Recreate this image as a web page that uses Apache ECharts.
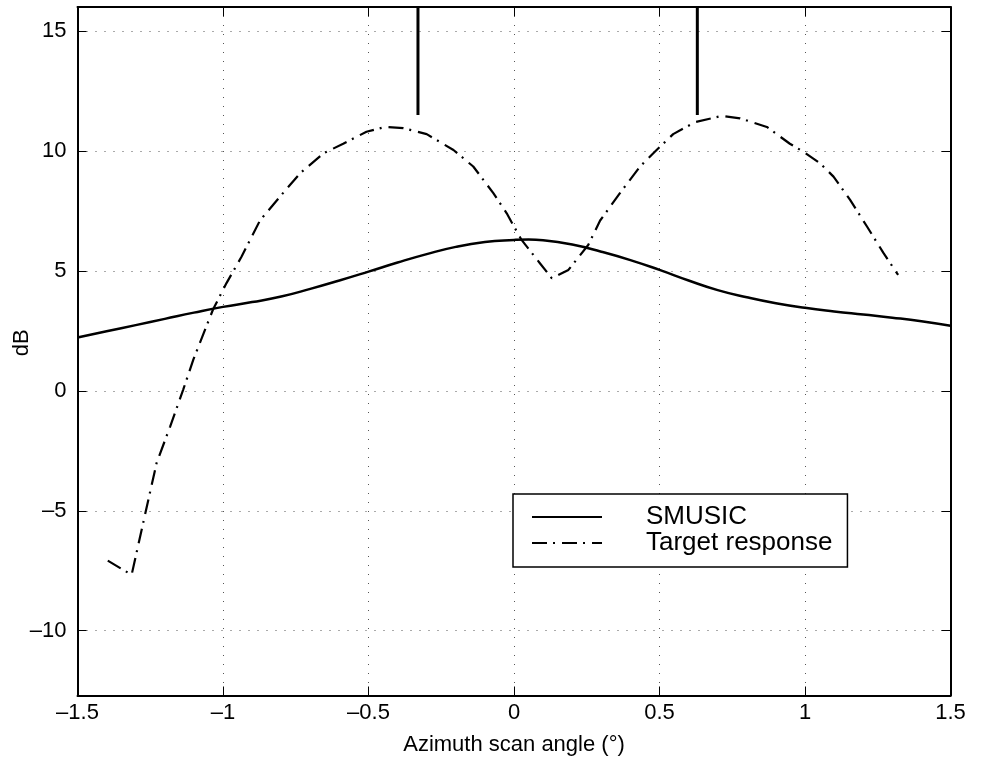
<!DOCTYPE html>
<html>
<head>
<meta charset="utf-8">
<script src="https://cdn.jsdelivr.net/npm/echarts@6/dist/echarts.min.js"></script>
<style>
html,body{margin:0;padding:0;background:#fff;}
#chart{width:982px;height:763px;}
</style>
</head>
<body>
<div id="chart"></div>
<script>
// ---- data ----
const smusicAngles = [-1.5,-1.4,-1.3,-1.2,-1.1,-1.0,-0.9,-0.8,-0.7,-0.6,-0.5,-0.4,-0.3,-0.2,-0.1,0.0,0.05,0.1,0.2,0.3,0.4,0.5,0.6,0.7,0.8,0.9,1.0,1.1,1.2,1.3,1.4,1.5];
const smusicDb = [2.22,2.48,2.74,3.0,3.26,3.5,3.7,3.93,4.25,4.6,4.97,5.35,5.7,6.0,6.2,6.29,6.31,6.28,6.1,5.8,5.45,5.04,4.6,4.2,3.9,3.65,3.46,3.31,3.18,3.05,2.9,2.71];

const targetAngles = [-1.396,-1.314,-1.265,-1.228,-1.182,-1.137,-1.102,-1.034,-0.988,-0.936,-0.873,-0.804,-0.735,-0.655,-0.587,-0.507,-0.443,-0.380,-0.30,-0.208,-0.14,-0.071,-0.025,0.0,0.026,0.089,0.13,0.187,0.255,0.296,0.364,0.433,0.49,0.547,0.622,0.714,0.777,0.869,0.948,0.994,1.052,1.098,1.155,1.213,1.27,1.32];
const targetDb = [-7.08,-7.67,-5.0,-3.0,-1.5,0.04,1.3,3.4,4.49,5.6,7.1,8.1,9.07,9.9,10.3,10.8,11.0,10.95,10.7,10.04,9.35,8.24,7.4,6.85,6.29,5.32,4.69,5.04,6.08,7.1,8.24,9.35,10.04,10.7,11.2,11.46,11.36,11.0,10.3,9.97,9.48,8.93,7.96,6.85,5.74,4.83];

const peakAngles = [-0.33, 0.63];
const peakBaseDb = 11.5;
const peakTopDb = 16;

const xTicks = [-1.5,-1,-0.5,0,0.5,1,1.5];
const yTicks = [-10,-5,0,5,10,15];
const seriesNames = ['SMUSIC','Target response'];
const xTitle = 'Azimuth scan angle (°)';
const yTitle = 'dB';

// ---- chart ----
const font = 'Liberation Sans, Arial, Helvetica, sans-serif';
const fmt = v => String(v).replace('-', '\u2013');
const zip = (a, b) => a.map((v, i) => [v, b[i]]);

const series = [
  {
    name: seriesNames[0], type: 'line', xAxisIndex: 0, yAxisIndex: 0,
    data: zip(smusicAngles, smusicDb), symbol: 'none', showSymbol: false, smooth: 0.5,
    lineStyle: {color: '#000', width: 2.5, type: 'solid'}, itemStyle: {color: '#000'},
    animation: false
  },
  {
    name: seriesNames[1], type: 'line', xAxisIndex: 0, yAxisIndex: 0,
    data: zip(targetAngles, targetDb), symbol: 'none', showSymbol: false,
    lineStyle: {color: '#000', width: 2.2, type: [15, 6, 2, 7]}, itemStyle: {color: '#000'},
    animation: false
  }
];
peakAngles.forEach((a, i) => {
  series.push({
    name: 'peak' + i, type: 'line', xAxisIndex: 0, yAxisIndex: 0,
    data: [[a, peakBaseDb], [a, peakTopDb]], symbol: 'none',
    lineStyle: {color: '#000', width: 3}, animation: false, clip: true
  });
});

const chart = echarts.init(document.getElementById('chart'), null, {renderer: 'canvas'});
chart.setOption({
  backgroundColor: '#fff',
  animation: false,
  textStyle: {fontFamily: font, color: '#000'},
  grid: {left: 77.5, right: 31.5, top: 7, bottom: 67.5, containLabel: false, outerBoundsMode: 'none'},
  legend: {
    data: seriesNames,
    orient: 'vertical',
    left: 513, top: 494,
    itemWidth: 70, itemHeight: 26, itemGap: 0,
    padding: [10, 15, 11, 18],
    borderColor: '#000', borderWidth: 1.5, backgroundColor: '#fff',
    itemStyle: {opacity: 0},
    textStyle: {fontFamily: font, fontSize: 26, color: '#000', lineHeight: 26, padding: [0, 0, 0, 39]},
    selectedMode: false
  },
  xAxis: [
    {
      type: 'value', min: -1.5, max: 1.5, interval: 0.5, position: 'bottom',
      name: xTitle, nameLocation: 'middle', nameGap: 38, nameMoveOverlap: false,
      nameTextStyle: {fontFamily: font, fontSize: 22, color: '#000'},
      axisLine: {onZero: false, lineStyle: {color: '#000', width: 2}},
      axisTick: {inside: true, length: 9, lineStyle: {color: '#000', width: 1}},
      axisLabel: {margin: 6, fontFamily: font, fontSize: 22, color: '#000', formatter: v => xTicks.includes(v) ? fmt(v) : ''},
      splitLine: {show: true, lineStyle: {color: '#555', width: 1, type: [1, 8]}}
    },
    {
      type: 'value', min: -1.5, max: 1.5, interval: 0.5, position: 'top',
      axisLine: {onZero: false, lineStyle: {color: '#000', width: 2}},
      axisTick: {inside: true, length: 9, lineStyle: {color: '#000', width: 1}},
      axisLabel: {show: false}, splitLine: {show: false}
    }
  ],
  yAxis: [
    {
      type: 'value', min: -12.7, max: 16, position: 'left',
      name: yTitle, nameLocation: 'middle', nameGap: 45, nameRotate: 90, nameMoveOverlap: false,
      nameTextStyle: {fontFamily: font, fontSize: 22, color: '#000', padding: [0, 0, 0, 17]},
      axisLine: {onZero: false, lineStyle: {color: '#000', width: 2}},
      axisTick: {inside: true, length: 9, customValues: yTicks, lineStyle: {color: '#000', width: 1}},
      axisLabel: {margin: 11, fontFamily: font, fontSize: 22, color: '#000', customValues: yTicks, formatter: v => fmt(v)},
      splitLine: {show: true, lineStyle: {color: '#555', width: 1, type: [1, 8]}}
    },
    {
      type: 'value', min: -12.7, max: 16, position: 'right',
      axisLine: {onZero: false, lineStyle: {color: '#000', width: 2}},
      axisTick: {inside: true, length: 9, customValues: yTicks, lineStyle: {color: '#000', width: 1}},
      axisLabel: {show: false}, splitLine: {show: false}
    }
  ],
  series: series
});
</script>
</body>
</html>
